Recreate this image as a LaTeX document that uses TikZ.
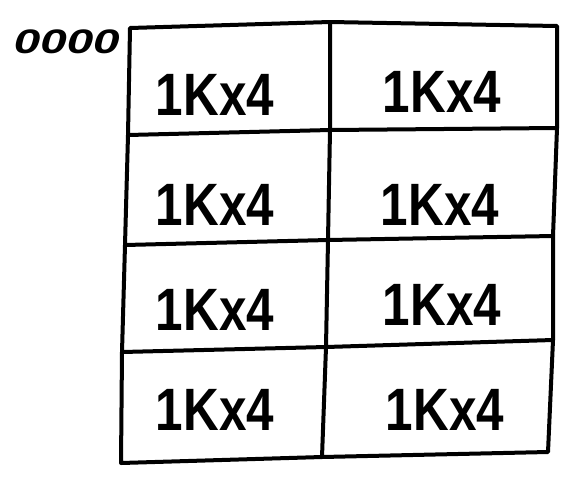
\documentclass[tikz,border=0pt]{standalone}
\usepackage{fontspec}
\setmainfont{Liberation Sans}
\begin{document}
\begin{tikzpicture}[x=1pt,y=-1pt,
  pen/.style={line width=4pt,line cap=round,line join=round,black},
  celltext/.style={font=\fontsize{52}{52}\selectfont\bfseries,inner sep=0pt,yscale=1.15,xscale=0.95},
  addr/.style={font=\fontsize{34}{34}\selectfont\bfseries\itshape,inner sep=0pt,xscale=1.4}]
\useasboundingbox (0,0) rectangle (580,477);
% grid points
\coordinate (l0) at (130,28);  \coordinate (m0) at (330,22);  \coordinate (r0) at (557,26);
\coordinate (l1) at (128,135); \coordinate (m1) at (330,130); \coordinate (r1) at (557,128);
\coordinate (l2) at (125,245); \coordinate (m2) at (328,240); \coordinate (r2) at (553,236);
\coordinate (l3) at (122,352); \coordinate (m3) at (326,347); \coordinate (r3) at (553,340);
\coordinate (l4) at (121,463); \coordinate (m4) at (322,457); \coordinate (r4) at (548,452);
% outline and dividers
\draw[pen] (l0) -- (m0) -- (r0) -- (r1) -- (r2) -- (r3) -- (r4) -- (m4) -- (l4) -- (l3) -- (l2) -- (l1) -- cycle;
\draw[pen] (m0) -- (m1) -- (m2) -- (m3) -- (m4);
\draw[pen] (l1) -- (m1) -- (r1);
\draw[pen] (l2) -- (m2) -- (r2);
\draw[pen] (l3) -- (m3) -- (r3);
% address label
\node[addr,anchor=east] (a0) at (120,42) {0000};
% cells
\node[celltext] (c11) at (215,95) {1Kx4};
\node[celltext] (c12) at (442,92) {1Kx4};
\node[celltext] (c21) at (215,205) {1Kx4};
\node[celltext] (c22) at (440,205) {1Kx4};
\node[celltext] (c31) at (215,310) {1Kx4};
\node[celltext] (c32) at (442,305) {1Kx4};
\node[celltext] (c41) at (215,410) {1Kx4};
\node[celltext] (c42) at (445,410) {1Kx4};
\end{tikzpicture}
\end{document}
